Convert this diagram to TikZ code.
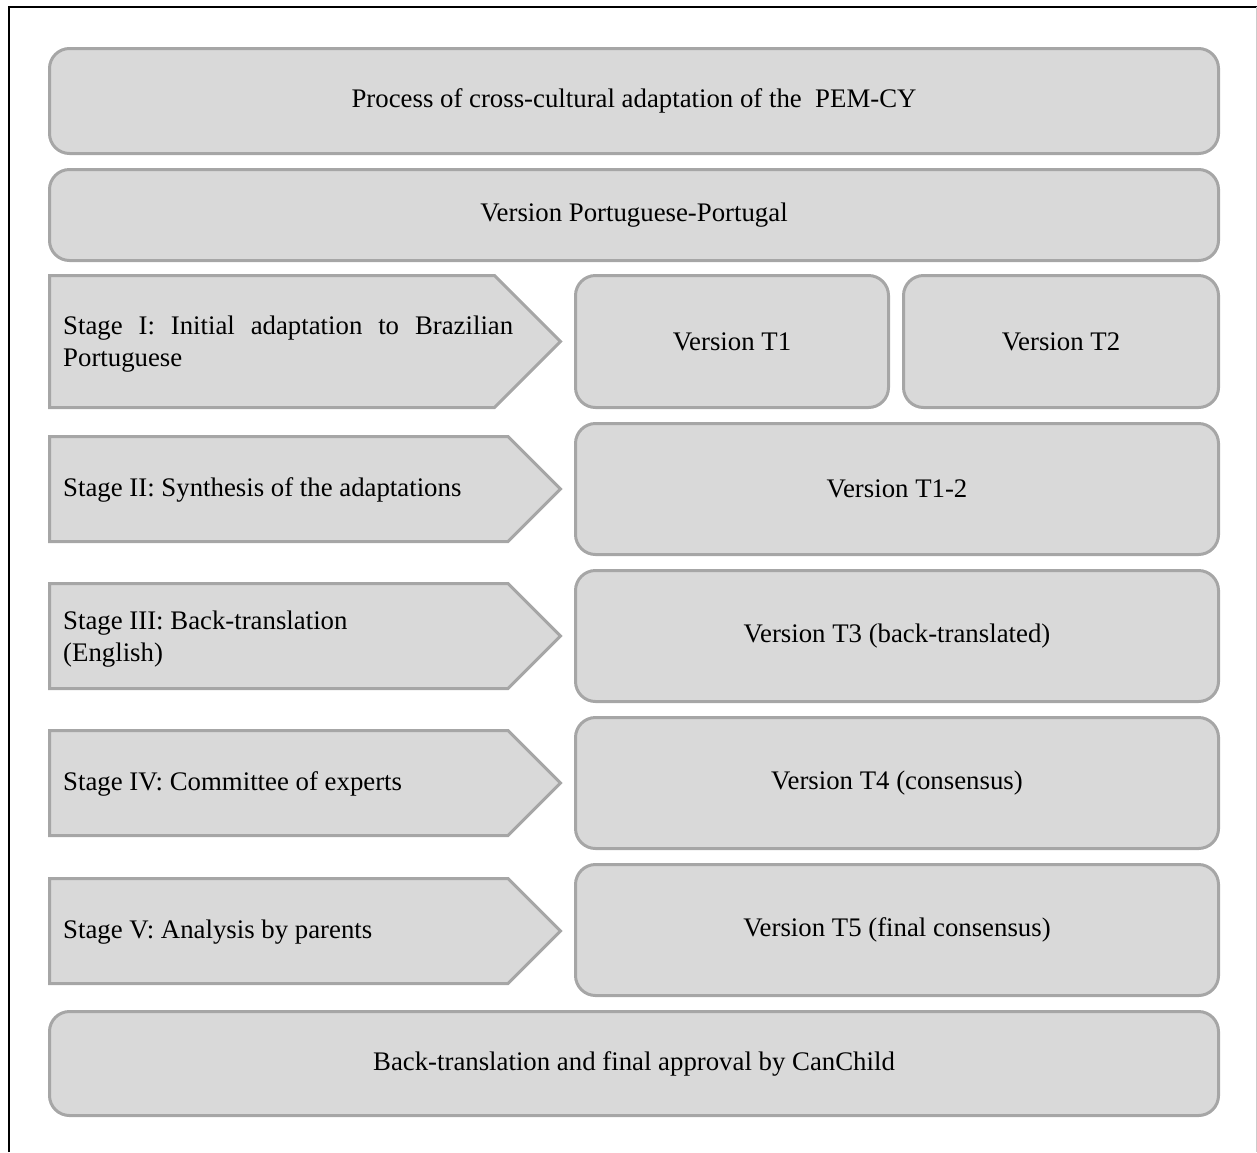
\documentclass[tikz,border=0pt]{standalone}
\usepackage{fontspec}
\setmainfont{Liberation Serif}
\usetikzlibrary{positioning, calc}

\definecolor{boxfill}{HTML}{D9D9D9}
\definecolor{boxline}{HTML}{A6A6A6}

\tikzset{
    roundbox/.style={draw=boxline, fill=boxfill, line width=3pt, rounded corners=20pt},
    stagebox/.style={draw=boxline, fill=boxfill, line width=3pt, line join=miter},
    stagetext/.style={anchor=west, inner sep=0pt, align=left}
}

\begin{document}
\begin{tikzpicture}[x=1pt, y=-1pt, font=\fontsize{26.8}{32}\selectfont]
    \useasboundingbox (0,0) rectangle (1257,1152);
    % outer frame
    \draw[line width=2pt] (9,1152) -- (9,7) -- (1257,7);
    \draw[black!20, line width=1pt] (1256,7) -- (1256,1152);

    % top rows
    \node[roundbox, minimum width=1169pt, minimum height=105pt] (title) at (634,101) {Process of cross-cultural adaptation of the \ PEM-CY};
    \node[roundbox, minimum width=1169pt, minimum height=91pt] (ptpt) at (634,215) {Version Portuguese-Portugal};

    % stages
    \draw[stagebox] (49.5,275.5) -- (494.5,275.5) -- (560.5,341.5) -- (494.5,407.5) -- (49.5,407.5) -- cycle;
    \node[stagetext, text width=450pt, align=justify] (s1) at (63,344) {Stage I: Initial adaptation to Brazilian \mbox{Portuguese}};
    \draw[stagebox] (49.5,436.5) -- (508,436.5) -- (560.5,489) -- (508,541.5) -- (49.5,541.5) -- cycle;
    \node[stagetext] (s2) at (63,490) {Stage II: Synthesis of the adaptations};
    \draw[stagebox] (49.5,583.5) -- (508,583.5) -- (560.5,636) -- (508,688.5) -- (49.5,688.5) -- cycle;
    \node[stagetext] (s3) at (63,639) {Stage III: Back-translation\\(English)};
    \draw[stagebox] (49.5,730.5) -- (508,730.5) -- (560.5,783) -- (508,835.5) -- (49.5,835.5) -- cycle;
    \node[stagetext] (s4) at (63,784) {Stage IV: Committee of experts};
    \draw[stagebox] (49.5,878.5) -- (508,878.5) -- (560.5,931) -- (508,983.5) -- (49.5,983.5) -- cycle;
    \node[stagetext] (s5) at (63,932) {Stage V: Analysis by parents};

    % versions
    \node[roundbox, minimum width=313pt, minimum height=132pt] (t1) at (732,341.5) {Version T1};
    \node[roundbox, minimum width=315pt, minimum height=132pt] (t2) at (1061,341.5) {Version T2};
    \node[roundbox, minimum width=643pt, minimum height=131pt] (t12) at (897,489) {Version T1-2};
    \node[roundbox, minimum width=643pt, minimum height=131pt] (t3) at (897,636) {Version T3 (back-translated)};
    \node[roundbox, minimum width=643pt, minimum height=131pt] (t4) at (897,783) {Version T4 (consensus)};
    \node[roundbox, minimum width=643pt, minimum height=131pt] (t5) at (897,930) {Version T5 (final consensus)};

    % bottom row
    \node[roundbox, minimum width=1169pt, minimum height=104pt] (canchild) at (634,1063.5) {Back-translation and final approval by CanChild};
\end{tikzpicture}
\end{document}
